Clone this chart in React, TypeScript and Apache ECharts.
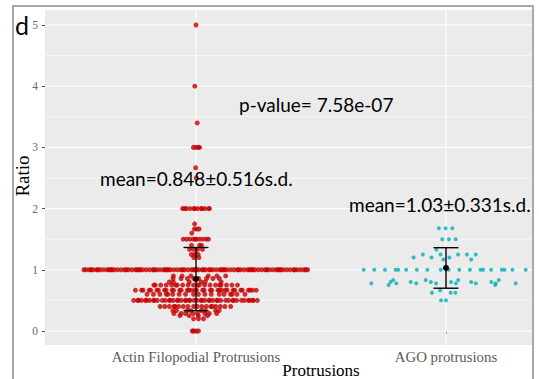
import React, { useEffect, useRef } from "react";
import * as echarts from "echarts";

// ---------- data ----------
const categories = ["Actin Filopodial Protrusions", "AGO protrusions"];
const yTickValues = [0, 1, 2, 3, 4, 5];
const yMinorValues = [0.5, 1.5, 2.5, 3.5, 4.5];
const xTickValues = [1, 2];

// Actin filopodial protrusions: distinct ratio levels and how many cells sit at each
const actinLevels = [0, 0.2, 0.25, 0.286, 0.333, 0.4, 0.5, 0.6, 0.667, 0.75, 0.8, 0.857, 0.9, 1.0, 1.2, 1.25, 1.333, 1.4, 1.5, 1.6, 1.667, 1.75, 2.0, 2.5, 2.667, 3.0, 3.4, 4.0, 5.0];
const actinCounts = [4, 3, 4, 8, 8, 18, 45, 18, 35, 20, 6, 8, 6, 90, 2, 3, 4, 3, 10, 1, 3, 1, 12, 1, 1, 4, 1, 1, 1];

// AGO protrusions: individual ratios
const agoRatios = [
  1.68, 1.68, 1.68, 1.5, 1.5, 1.5, 1.333, 1.25, 1.25, 1.25, 1.25, 1.25, 1.2, 1.2, 1.2, 1.167, 1.167,
  1, 1, 1, 1, 1, 1, 1, 1, 1, 1, 1, 1, 1, 1, 1, 1, 1, 1, 1,
  0.833, 0.833, 0.833, 0.833, 0.8, 0.8, 0.8, 0.8, 0.8, 0.8,
  0.778, 0.778, 0.778, 0.778, 0.778, 0.778, 0.778, 0.778, 0.75, 0.75,
  0.667, 0.625, 0.625, 0.625, 0.5, 0.5,
];

// summary statistics printed on the figure
const groupMeans = [0.848, 1.03];
const groupSDs = [0.516, 0.331];
const pValueText = "p-value= 7.58e-07";

// ---------- helpers ----------
const actinRatios: number[] = [];
actinLevels.forEach((v, i) => {
  for (let k = 0; k < actinCounts[i]; k++) actinRatios.push(v);
});

function vanDerCorput(n: number): number {
  let v = 0;
  let denom = 1;
  while (n > 0) {
    denom *= 2;
    v += (n % 2) / denom;
    n = Math.floor(n / 2);
  }
  return v;
}

function quantile(sorted: number[], p: number): number {
  const h = (sorted.length - 1) * p;
  const lo = Math.floor(h);
  const hi = Math.ceil(h);
  return sorted[lo] + (sorted[hi] - sorted[lo]) * (h - lo);
}

// quasirandom (ggbeeswarm-like) horizontal offsets
function quasiOffsets(values: number[], width: number, adjust: number): number[] {
  const n = values.length;
  const mean = values.reduce((a, b) => a + b, 0) / n;
  const sd = Math.sqrt(values.reduce((a, b) => a + (b - mean) * (b - mean), 0) / (n - 1));
  const sorted = [...values].sort((a, b) => a - b);
  const iqr = quantile(sorted, 0.75) - quantile(sorted, 0.25);
  const bw = 0.9 * Math.min(sd, iqr / 1.34 || sd) * Math.pow(n, -0.2) * adjust;
  const dens = values.map((y) =>
    values.reduce((acc, v) => acc + Math.exp(-0.5 * ((y - v) / bw) ** 2), 0)
  );
  const maxD = Math.max(...dens);
  const order = values.map((_, i) => i).sort((a, b) => values[a] - values[b] || a - b);
  const out = new Array(n).fill(0);
  order.forEach((idx, r) => {
    out[idx] = (vanDerCorput(r + 1) - 0.5) * 2 * width * (dens[idx] / maxD);
  });
  return out;
}

const X_MIN = 0.396;
const X_MAX = 2.344;
const Y_MIN = -0.229;
const Y_MAX = 5.245;

const actinOff = quasiOffsets(actinRatios, 0.45, 0.5);
const agoOff = quasiOffsets(agoRatios, 0.34, 0.5);
const actinPoints = actinRatios.map((v, i) => [1 + actinOff[i], v]);
const agoPoints = agoRatios.map((v, i) => [2 + agoOff[i], v]);

const SERIF = "'Liberation Serif', 'Times New Roman', serif";
const SANS = "Lato, 'Liberation Sans', sans-serif";

function hLineRender(width: number) {
  return (params: any, api: any) => {
    const y = api.value(1);
    const p1 = api.coord([X_MIN, y]);
    const p2 = api.coord([X_MAX, y]);
    return {
      type: "line",
      shape: { x1: p1[0], y1: p1[1], x2: p2[0], y2: p2[1] },
      style: { stroke: "#FFFFFF", lineWidth: width },
    };
  };
}

function vLineRender(params: any, api: any) {
  const x = api.value(0);
  const p1 = api.coord([x, Y_MIN]);
  const p2 = api.coord([x, Y_MAX]);
  return {
    type: "line",
    shape: { x1: p1[0], y1: p1[1], x2: p2[0], y2: p2[1] },
    style: { stroke: "#FFFFFF", lineWidth: 1 },
  };
}

function errorBarRender(params: any, api: any) {
  const x = api.value(0);
  const m = api.value(1);
  const s = api.value(2);
  const top = api.coord([x, m + s]);
  const bot = api.coord([x, m - s]);
  const ctr = api.coord([x, m]);
  const capL = api.coord([x - 0.05, m]);
  const capR = api.coord([x + 0.05, m]);
  const st = { stroke: "#000000", lineWidth: 1.4 };
  return {
    type: "group",
    children: [
      { type: "line", shape: { x1: top[0], y1: top[1], x2: bot[0], y2: bot[1] }, style: st },
      { type: "line", shape: { x1: capL[0], y1: top[1], x2: capR[0], y2: top[1] }, style: st },
      { type: "line", shape: { x1: capL[0], y1: bot[1], x2: capR[0], y2: bot[1] }, style: st },
      { type: "circle", shape: { cx: ctr[0], cy: ctr[1], r: 3 }, style: { fill: "#000000" } },
    ],
  };
}

export default function App() {
  const ref = useRef<HTMLDivElement>(null);
  useEffect(() => {
    if (!ref.current) return;
    const chart = echarts.init(ref.current, null, { renderer: "svg" });
    const option: any = {
      animation: false,
      backgroundColor: "#FFFFFF",
      grid: {
        left: 45,
        top: 10,
        right: 7,
        bottom: 34,
        show: true,
        backgroundColor: "#EBEBEB",
        borderWidth: 0,
      },
      xAxis: {
        type: "value",
        min: X_MIN,
        max: X_MAX,
        axisLine: { show: false },
        splitLine: { show: false },
        axisTick: { show: true, customValues: xTickValues, length: 3, lineStyle: { color: "#4D4D4D" } },
        axisLabel: {
          customValues: xTickValues,
          formatter: (v: number) => categories[Math.round(v) - 1] ?? "",
          fontFamily: SERIF,
          fontSize: 14.8,
          color: "#5A5A5A",
          margin: 4,
        },
      },
      yAxis: {
        type: "value",
        min: Y_MIN,
        max: Y_MAX,
        axisLine: { show: false },
        splitLine: { show: false },
        axisTick: { show: true, customValues: yTickValues, length: 3, lineStyle: { color: "#4D4D4D" } },
        axisLabel: {
          customValues: yTickValues,
          fontFamily: SERIF,
          fontSize: 11.5,
          color: "#6A6A6A",
          margin: 7,
        },
      },
      series: [
        {
          type: "custom",
          name: "minorY",
          z: 1,
          silent: true,
          renderItem: hLineRender(0.6),
          data: yMinorValues.map((v) => [1.5, v]),
        },
        {
          type: "custom",
          name: "majorY",
          z: 1,
          silent: true,
          renderItem: hLineRender(1.1),
          data: yTickValues.map((v) => [1.5, v]),
        },
        {
          type: "custom",
          name: "majorX",
          z: 1,
          silent: true,
          renderItem: vLineRender,
          data: xTickValues.map((v) => [v, 1]),
        },
        {
          type: "scatter",
          name: categories[0],
          z: 3,
          symbol: "circle",
          symbolSize: 5,
          itemStyle: { color: "#C80000" },
          data: actinPoints,
        },
        {
          type: "scatter",
          name: categories[1],
          z: 3,
          symbol: "circle",
          symbolSize: 4,
          itemStyle: { color: "#00AFBB" },
          data: agoPoints,
        },
        {
          type: "custom",
          name: "meanSD",
          z: 5,
          silent: true,
          renderItem: errorBarRender,
          data: xTickValues.map((x, i) => [x, groupMeans[i], groupSDs[i]]),
        },
      ],
      graphic: [
        {
          type: "rect",
          z: 10,
          silent: true,
          shape: { x: 13, y: 6, width: 520, height: 400 },
          style: { fill: "none", stroke: "#A8A8A8", lineWidth: 2 },
        },
        {
          type: "text",
          x: 15,
          y: 25,
          z: 10,
          style: { text: "d", font: `25px ${SANS}`, fill: "#000000", align: "left", verticalAlign: "middle" },
        },
        {
          type: "text",
          x: 239,
          y: 104,
          z: 10,
          style: { text: pValueText, font: `19px ${SANS}`, fill: "#000000", align: "left", verticalAlign: "middle" },
        },
        {
          type: "text",
          x: 100,
          y: 178,
          z: 10,
          style: {
            text: `mean=${groupMeans[0]}±${groupSDs[0]}s.d.`,
            font: `19px ${SANS}`,
            fill: "#000000",
            align: "left",
            verticalAlign: "middle",
          },
        },
        {
          type: "text",
          x: 349,
          y: 204,
          z: 10,
          style: {
            text: `mean=${groupMeans[1]}±${groupSDs[1]}s.d.`,
            font: `19px ${SANS}`,
            fill: "#000000",
            align: "left",
            verticalAlign: "middle",
          },
        },
        {
          type: "text",
          x: 22,
          y: 176,
          rotation: Math.PI / 2,
          z: 10,
          style: { text: "Ratio", font: `19px ${SERIF}`, fill: "#000000", align: "center", verticalAlign: "middle" },
        },
        {
          type: "text",
          x: 321,
          y: 370,
          z: 10,
          style: { text: "Protrusions", font: `17px ${SERIF}`, fill: "#000000", align: "center", verticalAlign: "middle" },
        },
      ],
    };
    chart.setOption(option);
    return () => chart.dispose();
  }, []);
  return <div ref={ref} style={{ position: "fixed", left: 0, top: 0, width: 539, height: 379 }} />;
}
